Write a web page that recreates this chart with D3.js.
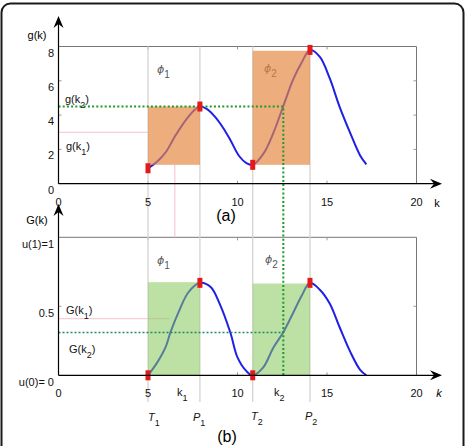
<!DOCTYPE html>
<html><head><meta charset="utf-8">
<script src="https://cdn.jsdelivr.net/npm/d3@7"></script>
<style>body{margin:0;background:#fff}svg{display:block}text{font-family:"Liberation Sans",Arial,sans-serif}</style>
</head><body><svg id="c" width="467" height="446"></svg>
<script>
// ---- data ----
const xTicks = [0, 5, 10, 15, 20];
const gTicks = [0, 2, 4, 6, 8];
const GTickValues = [0, 0.5, 1];
const GTickLabels = ["u(0)= 0", "0.5", "u(1)=1"];
const gCurve = [[5,0.9],[5.5,1.28],[6,1.85],[6.5,2.75],[7,3.55],[7.5,4.2],[7.9,4.5],[8.3,4.35],[8.7,3.95],[9.2,3.25],[9.6,2.55],[10.1,1.6],[10.5,1.2],[10.85,1.1],[11.45,1.75],[12,2.95],[12.55,4.5],[13.1,6.05],[13.6,7.1],[14.05,7.8],[14.6,7.4],[15.15,6.15],[15.7,4.5],[16.3,2.95],[16.85,1.65],[17.2,1.13]];
const GCurve = [[5,0],[5.5,0.09],[6,0.21],[6.25,0.31],[6.75,0.47],[7.25,0.6],[7.9,0.67],[8.5,0.64],[9,0.52],[9.6,0.31],[10,0.13],[10.5,0.03],[10.85,0],[11.45,0.06],[12,0.2],[12.55,0.31],[13.1,0.45],[13.6,0.58],[14.05,0.67],[14.6,0.62],[15.15,0.52],[15.7,0.35],[16.3,0.17],[16.85,0.04],[17.2,0]];
const troughs = [5, 10.85];       // T1, T2
const peaks = [7.9, 14.05];       // P1, P2
const gMarkers = [[5,0.9],[7.9,4.5],[10.85,1.1],[14.05,7.8]];
const GMarkers = [[5,0],[7.9,0.67],[10.85,0],[14.05,0.67]];
const orangeRects = [[5,7.9,1.1,4.5],[10.85,14.05,1.1,7.75]];
const greenRects = [[5,7.9,0,0.675],[10.85,14.05,0,0.665]];
const k1 = 6.5, gk1 = 3.0, Gk1 = 0.41;
const k2 = 12.56, gk2 = 4.5, Gk2 = 0.31;

// ---- scales ----
const svg = d3.select("#c");
const x = d3.scaleLinear().domain([0,20]).range([58.5,416.5]);
const yT = d3.scaleLinear().domain([0,8]).range([183.7,46.5]);
const yB = d3.scaleLinear().domain([0,1]).range([375.3,237.3]);

// outer frame
svg.append("rect").attr("x",1.5).attr("y",3.5).attr("width",462).attr("height",470).attr("rx",9)
  .attr("fill","none").attr("stroke","#1a1a1a").attr("stroke-width",2);

function panel(y, top){
  const g = svg.append("g");
  g.append("line").attr("x1",x(0)).attr("x2",x(20)).attr("y1",y.range()[1]).attr("y2",y.range()[1]).attr("stroke","#777").attr("stroke-width",1);
  g.append("line").attr("x1",x(20)).attr("x2",x(20)).attr("y1",y.range()[0]).attr("y2",y.range()[1]).attr("stroke","#777").attr("stroke-width",1);
  xTicks.slice(1,-1).forEach(t=>{
    g.append("line").attr("x1",x(t)).attr("x2",x(t)).attr("y1",y.range()[1]).attr("y2",y.range()[1]+3).attr("stroke","#999");
    g.append("line").attr("x1",x(t)).attr("x2",x(t)).attr("y1",y.range()[0]).attr("y2",y.range()[0]-3).attr("stroke","#999");
  });
  const yt = top ? gTicks.slice(1,-1) : [0.5];
  yt.forEach(t=>{
    g.append("line").attr("x1",x(20)).attr("x2",x(20)-3).attr("y1",y(t)).attr("y2",y(t)).attr("stroke","#999");
    g.append("line").attr("x1",x(0)).attr("x2",x(0)+3).attr("y1",y(t)).attr("y2",y(t)).attr("stroke","#999");
  });
  return g;
}
panel(yT, true);
panel(yB, false);

// gray vertical guide lines
[...troughs, ...peaks].forEach(v=>{
  svg.append("line").attr("x1",x(v)).attr("x2",x(v)).attr("y1",yT(8)).attr("y2",402)
    .attr("stroke","#d4d4d4").attr("stroke-width",1.3);
});

// pink helper lines
const pink = "#f4c0c8";
svg.append("line").attr("x1",x(0)).attr("x2",x(5)).attr("y1",yT(gk1)).attr("y2",yT(gk1)).attr("stroke",pink).attr("stroke-width",1);
svg.append("line").attr("x1",x(k1)).attr("x2",x(k1)).attr("y1",yT(1.1)).attr("y2",yB(1)).attr("stroke",pink).attr("stroke-width",1);
svg.append("line").attr("x1",x(0)).attr("x2",x(6.2)).attr("y1",yB(Gk1)).attr("y2",yB(Gk1)).attr("stroke",pink).attr("stroke-width",1);

// curves
const line = (y)=>d3.line().x(d=>x(d[0])).y(d=>y(d[1])).curve(d3.curveCatmullRom.alpha(0.5));
svg.append("path").attr("d",line(yT)(gCurve)).attr("fill","none").attr("stroke","#1f1fe6").attr("stroke-width",2);
svg.append("path").attr("d",line(yB)(GCurve)).attr("fill","none").attr("stroke","#1f1fe6").attr("stroke-width",2);

// phi labels (under rects)
function phi(px, py, sub, col){
  const t = svg.append("text").attr("x",px).attr("y",py).attr("fill",col).attr("font-size",11);
  t.append("tspan").attr("font-style","italic").attr("font-family","'DejaVu Sans',sans-serif").text("ϕ");
  t.append("tspan").attr("dy",5).attr("font-size",10).text(sub);
}
phi(157, 73, "1", "#555");
phi(264, 72, "2", "#555");
phi(157, 264, "1", "#555");
phi(265, 263, "2", "#555");

// rects
orangeRects.forEach(r=>{
  svg.append("rect").attr("x",x(r[0])).attr("width",x(r[1])-x(r[0])).attr("y",yT(r[3])).attr("height",yT(r[2])-yT(r[3]))
    .attr("fill","#e5863f").attr("opacity",0.68);
});
greenRects.forEach(r=>{
  svg.append("rect").attr("x",x(r[0])).attr("width",x(r[1])-x(r[0])).attr("y",yB(r[3])).attr("height",yB(r[2])-yB(r[3]))
    .attr("fill","#86c95a").attr("opacity",0.55);
});

// dotted green lines
svg.append("path").attr("d",`M${x(0)},${yT(gk2)}H${x(k2)}V${yB(0)}`).attr("fill","none")
  .attr("stroke","#1f9a2a").attr("stroke-width",2).attr("stroke-dasharray","2,2.2");
svg.append("line").attr("x1",x(0)).attr("x2",x(k2)).attr("y1",yB(Gk2)).attr("y2",yB(Gk2))
  .attr("stroke","#1c8a60").attr("stroke-width",1.6).attr("stroke-dasharray","2,2");

// red markers
gMarkers.forEach(d=>svg.append("rect").attr("x",x(d[0])-2.5).attr("y",yT(d[1])-5).attr("width",5).attr("height",10).attr("fill","#e3191c"));
GMarkers.forEach(d=>svg.append("rect").attr("x",x(d[0])-2.5).attr("y",yB(d[1])-5).attr("width",5).attr("height",10).attr("fill","#e3191c"));

// axes with arrows
function arrowHead(tx, ty, dir){
  const L=12, W=5, N=4;
  let p;
  if(dir==="up") p=`M${tx},${ty}L${tx+W},${ty+L}L${tx},${ty+L-N}L${tx-W},${ty+L}Z`;
  else p=`M${tx},${ty}L${tx-L},${ty-W}L${tx-L+N},${ty}L${tx-L},${ty+W}Z`;
  svg.append("path").attr("d",p).attr("fill","#000");
}
function axes(y, tipY){
  svg.append("line").attr("x1",x(0)).attr("x2",x(0)).attr("y1",y(y.domain()[0])).attr("y2",tipY+6).attr("stroke","#000").attr("stroke-width",1.2);
  svg.append("line").attr("x1",x(0)).attr("x2",436).attr("y1",y(y.domain()[0])).attr("y2",y(y.domain()[0])).attr("stroke","#000").attr("stroke-width",1.2);
  arrowHead(x(0), tipY, "up");
  arrowHead(442, y(y.domain()[0]), "right");
}
axes(yT, 16);
axes(yB, 204);

// tick labels
const fs = 11;
xTicks.forEach(t=>{
  svg.append("text").attr("x",x(t)).attr("y",206).attr("text-anchor","middle").attr("font-size",fs).attr("fill","#111").text(t);
  svg.append("text").attr("x",x(t)).attr("y",397).attr("text-anchor","middle").attr("font-size",fs).attr("fill","#111").text(t);
});
gTicks.forEach(t=>{
  svg.append("text").attr("x",54).attr("y",yT(t)+10).attr("text-anchor","end").attr("font-size",fs).attr("fill","#111").text(t);
});
GTickValues.forEach((t,i)=>{
  svg.append("text").attr("x",54).attr("y",yB(t)+11).attr("text-anchor","end").attr("font-size",fs).attr("fill","#111").text(GTickLabels[i]);
});
svg.append("text").attr("x",437).attr("y",207).attr("text-anchor","middle").attr("font-size",fs).text("k");
svg.append("text").attr("x",439).attr("y",397).attr("text-anchor","middle").attr("font-size",fs).attr("font-style","italic").text("k");
svg.append("text").attr("x",37).attr("y",39).attr("text-anchor","middle").attr("font-size",fs).text("g(k)");
svg.append("text").attr("x",37).attr("y",224).attr("text-anchor","middle").attr("font-size",fs).text("G(k)");

// subscript labels
function subLabel(px, py, pre, sub, post, italic){
  const t = svg.append("text").attr("x",px).attr("y",py).attr("font-size",fs).attr("fill","#111");
  if(italic) t.attr("font-style","italic");
  t.append("tspan").text(pre);
  t.append("tspan").attr("dy",5).attr("font-size",9).attr("font-style","normal").text(sub);
  if(post) t.append("tspan").attr("dy",-5).text(post);
}
subLabel(65, 103, "g(k", "2", ")");
subLabel(66, 150, "g(k", "1", ")");
subLabel(66, 314, "G(k", "1", ")");
subLabel(69, 353, "G(k", "2", ")");
subLabel(177, 396, "k", "1", "");
subLabel(274, 396, "k", "2", "");
subLabel(148, 421, "T", "1", "", true);
subLabel(193, 421, "P", "1", "", true);
subLabel(251, 420, "T", "2", "", true);
subLabel(305, 420, "P", "2", "", true);

svg.append("text").attr("x",226).attr("y",221).attr("text-anchor","middle").attr("font-size",16).attr("font-family","'Liberation Serif',serif").text("(a)");
svg.append("text").attr("x",227).attr("y",442).attr("text-anchor","middle").attr("font-size",16).attr("font-family","'Liberation Serif',serif").text("(b)");
</script></body></html>
